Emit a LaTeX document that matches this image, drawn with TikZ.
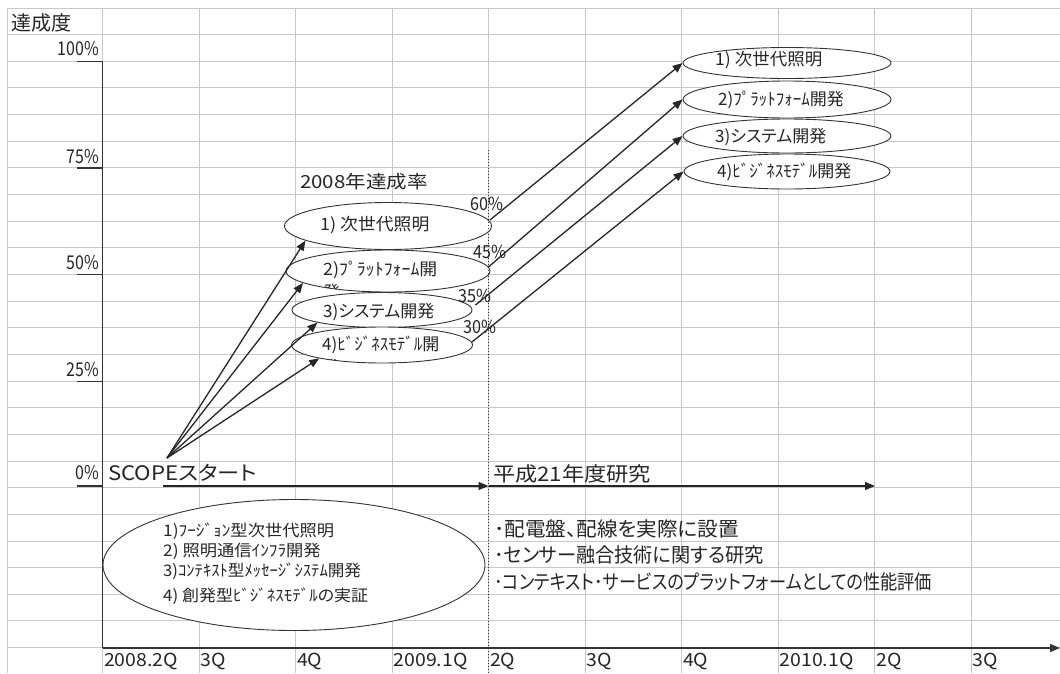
\documentclass[tikz,border=0pt]{standalone}
\usepackage{graphicx}
\usepackage{fontspec}
\setmainfont{Noto Sans CJK JP}[RawFeature=+palt]
\usetikzlibrary{arrows.meta,shapes.geometric,calc}
\definecolor{gridc}{HTML}{C8C8C8}
\definecolor{ink}{HTML}{262626}
\definecolor{axisc}{HTML}{333333}
\newcommand{\fs}[1]{\fontsize{#1pt}{#1pt}\selectfont}
\newcommand{\sx}[2]{\scalebox{#1}[1]{#2}}
\begin{document}
\begin{tikzpicture}[x=1pt,y=-1pt,
  gridline/.style={gridc, line width=1pt},
  axisline/.style={axisc, line width=1.4pt},
  tickline/.style={axisc, line width=1.2pt},
  ell/.style={ellipse, draw=axisc, fill=white, line width=0.9pt, inner sep=0pt},
  arr/.style={ink, line width=1.3pt, -{Triangle[length=10pt,width=8pt]}},
  txt/.style={inner sep=0pt, text=ink},
  lbl/.style={txt, anchor=west, font=\fs{17}},
  pct/.style={txt, anchor=east, font=\fs{19}},
  xl/.style={txt, anchor=west, font=\fs{18}},
  big/.style={txt, anchor=west, font=\fs{20}},
  small/.style={txt, anchor=west, font=\fs{16}}
]
\useasboundingbox (0,0) rectangle (1060,673);
\fill[white] (0,0) rectangle (1060,673);
% grid
\foreach \k in {0,...,24} \draw[gridline] (7,{8+26.65*\k}) -- (1060,{8+26.65*\k});
\draw[gridline] (7,8) -- (7,673);
\foreach \i in {0,...,9} \draw[gridline] ({102.5+96.5*\i},8) -- ({102.5+96.5*\i},673);

% axes
\coordinate (yt) at (102.5,61.3);
\coordinate (o) at (102.5,648);
\coordinate (xe) at (1060,648);
\draw[axisline] (yt) -- (o);
\draw[axisline, -{Triangle[length=10pt,width=8pt]}] (o) -- (xe);

% y ticks and labels
\node[txt, anchor=west, font=\fs{20}] (ylab) at (11,23) {達成度};
\foreach \lab/\yy/\ty in {100\%/61.3/49, 75\%/167.9/157, 50\%/274.5/263, 25\%/381.1/370, 0\%/486/473} {
  \draw[tickline] (77,\yy) -- (102.5,\yy);
  \node[pct] at (99,\ty) {\sx{0.84}{\lab}};
}

% x labels
\foreach \lab [count=\i from 0] in {2008.2Q,3Q,4Q,2009.1Q,2Q,3Q,4Q,2010.1Q,2Q,3Q}
  \node[xl] at ({104+96.5*\i},661) {\sx{1.08}{\lab}};

% big ellipse at bottom left
\node[ell, minimum width=382pt, minimum height=131pt] (goal) at (294,565) {};
\node[small] (g1) at (163,531) {\sx{1.08}{1)ﾌｰｼﾞｮﾝ型次世代照明}};
\node[small] (g2) at (163,551) {\sx{1.08}{2) 照明通信ｲﾝﾌﾗ開発}};
\node[small] (g3) at (163,571) {\sx{1.04}{3)ｺﾝﾃｷｽﾄ型ﾒｯｾｰｼﾞｼｽﾃﾑ開発}};
\node[small] (g4) at (163,596) {\sx{1.06}{4) 創発型ﾋﾞｼﾞﾈｽﾓﾃﾞﾙの実証}};

% 2008 ellipses
\node[txt, anchor=west, font=\fs{18}] (y2008) at (300,182) {\sx{1.14}{2008年達成率}};
\node[ell, minimum width=207pt, minimum height=47pt] (e1) at (388,226) {};
\node[ell, minimum width=204pt, minimum height=42pt] (e2) at (388,271) {};
\node[ell, minimum width=180pt, minimum height=35pt] (e3) at (382,310) {};
\node[ell, minimum width=181pt, minimum height=36pt] (e4) at (382,345) {};
\node[lbl] (t1) at (320,225) {\sx{1.05}{1) 次世代照明}};
\node[lbl] (t2) at (323,270) {\sx{1.05}{2)ﾌﾟﾗｯﾄﾌｫｰﾑ開}};
\node[lbl] (t3) at (323,312) {3)システム開発};
\node[lbl] (t4) at (322,345) {4)ﾋﾞｼﾞﾈｽﾓﾃﾞﾙ開};
\begin{scope}
  \clip (388,271) ellipse [x radius=101.5pt, y radius=20.5pt];
  \node[lbl] (t2b) at (323,292) {発};
\end{scope}
\begin{scope}
  \clip (382,345) ellipse [x radius=90pt, y radius=17.5pt];
  \node[lbl] (t4b) at (322,367) {発};
\end{scope}

% 2010 ellipses
\node[ell, minimum width=208pt, minimum height=31pt] (u1) at (787,63) {};
\node[ell, minimum width=208pt, minimum height=37pt] (u2) at (787,99.5) {};
\node[ell, minimum width=208pt, minimum height=34pt] (u3) at (787,136) {};
\node[ell, minimum width=206pt, minimum height=35pt] (u4) at (787,171.5) {};
\node[lbl] (v1) at (715,60) {\sx{1.03}{1) 次世代照明}};
\node[lbl] (v2) at (718,99.5) {2)ﾌﾟﾗｯﾄﾌｫｰﾑ開発};
\node[lbl] (v3) at (715,137) {3)システム開発};
\node[lbl] (v4) at (717,172) {4)ﾋﾞｼﾞﾈｽﾓﾃﾞﾙ開発};

% percent labels
\node[txt, anchor=west, font=\fs{18}] (p60) at (470,204) {\sx{0.9}{60\%}};
\node[txt, anchor=west, font=\fs{18}] (p45) at (473,252) {\sx{0.9}{45\%}};
\node[txt, anchor=west, font=\fs{18}] (p35) at (458,296) {\sx{0.9}{35\%}};
\node[txt, anchor=west, font=\fs{18}] (p30) at (463,327) {\sx{0.9}{30\%}};

% dotted divider
\coordinate (dtop) at (488.5,150);
\coordinate (dbot) at (488.5,673);
\draw[axisc, line width=1pt, dotted] (dtop) -- (dbot);

% scope start arrows
\coordinate (s) at (167,458);
\draw[arr] (s) -- (e1.190);
\draw[arr] (s) -- (e2.188);
\draw[arr] (s) -- (e3.191);
\draw[arr] (s) -- (e4.192);

% progress arrows
\draw[arr] ($(e1.east)+(-2,-6)$) -- (u1.west);
\draw[arr] ($(e2.east)+(-2,-4)$) -- (u2.west);
\draw[arr] ($(e3.east)+(3,-5)$) -- (u3.west);
\draw[arr] ($(e4.east)+(-1,-3)$) -- (u4.west);

% timeline
\node[big] (scope) at (108,473) {\sx{1.11}{SCOPEスタート}};
\coordinate (a0) at (163,486);
\coordinate (a1) at (488.5,486);
\coordinate (a2) at (875,486);
\draw[arr] (a0) -- (a1);
\node[big] (h21) at (493,474) {\sx{1.11}{平成21年度研究}};
\draw[arr] (a1) -- (a2);

% research items
\node[big] (r1) at (494,529) {\sx{1.03}{･配電盤、配線を実際に設置}};
\node[big] (r2) at (494,555) {\sx{0.96}{･センサー融合技術に関する研究}};
\node[big] (r3) at (494,582) {\sx{0.86}{･コンテキスト･サービスのプラットフォームとしての性能評価}};
\end{tikzpicture}
\end{document}
